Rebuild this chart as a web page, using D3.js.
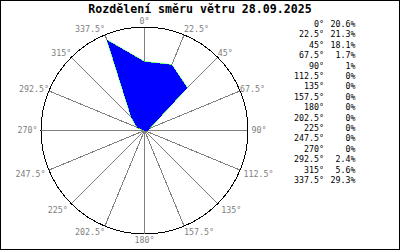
<!DOCTYPE html>
<html lang="cs">
<head>
  <meta charset="UTF-8">
  <title>Rozdělení směru větru</title>
  <script src="https://d3js.org/d3.v7.min.js"></script>
  <style>
    body { margin: 0; background: #fff; }
    svg { display: block; }
    text { font-family: "DejaVu Sans Mono", monospace; }
  </style>
</head>
<body>
<div id="chart"></div>

<script>
  const title = "Rozdělení směru větru 28.09.2025";
  const directions = [0, 22.5, 45, 67.5, 90, 112.5, 135, 157.5, 180, 202.5, 225, 247.5, 270, 292.5, 315, 337.5];
  const shares = [20.6, 21.3, 18.1, 1.7, 1, 0, 0, 0, 0, 0, 0, 0, 0, 2.4, 5.6, 29.3];

  const width = 400;
  const height = 250;
  const cx = 144.5;
  const cy = 130.5;
  const radius = 103.5;

  const svg = d3.select("#chart").append("svg")
    .attr("width", width)
    .attr("height", height);

  svg.append("rect")
    .attr("x", 0.5).attr("y", 0.5)
    .attr("width", width - 1).attr("height", height - 1)
    .attr("fill", "#fff")
    .attr("stroke", "#000")
    .attr("shape-rendering", "crispEdges");

  svg.append("text")
    .attr("x", width / 2)
    .attr("y", 8.5)
    .attr("dy", "0.35em")
    .attr("text-anchor", "middle")
    .attr("font-size", 11.6)
    .attr("font-weight", "bold")
    .text(title);

  const angle = d3.scaleLinear().domain([0, 360]).range([0, 2 * Math.PI]);
  const r = d3.scaleLinear().domain([0, 31]).range([0, radius]);

  const g = svg.append("g").attr("transform", `translate(${cx},${cy})`);

  // paprsky
  g.append("g")
    .attr("stroke", "#808080")
    .attr("shape-rendering", "crispEdges")
    .selectAll("line")
    .data(directions)
    .join("line")
    .attr("x1", 0).attr("y1", 0)
    .attr("x2", d => radius * Math.sin(angle(d)))
    .attr("y2", d => -radius * Math.cos(angle(d)));

  g.append("circle")
    .attr("r", radius)
    .attr("fill", "none")
    .attr("stroke", "#000")
    .attr("shape-rendering", "crispEdges");

  // popisky směrů
  g.append("g")
    .attr("font-size", 8.3)
    .attr("fill", "#808080")
    .selectAll("text")
    .data(directions)
    .join("text")
    .attr("text-anchor", d => {
      const s = Math.sin(angle(d));
      return s > 0.01 ? "start" : s < -0.01 ? "end" : "middle";
    })
    .attr("x", d => {
      const s = Math.sin(angle(d)), c = Math.cos(angle(d));
      const dx = Math.abs(s) > 0.5 && c < 0.1 ? 3.5 : 0;
      return radius * s + Math.sign(s) * dx;
    })
    .attr("y", d => {
      const c = Math.cos(angle(d));
      const off = c > 0 ? -6 * c : Math.min(6, -10 * c);
      return -radius * c + off;
    })
    .attr("dy", "0.35em")
    .text(d => `${d}°`);

  // růžice
  const rose = d3.lineRadial()
    .angle((d, i) => angle(directions[i]))
    .radius(d => r(d))
    .curve(d3.curveLinearClosed);

  g.append("path")
    .attr("d", rose(shares))
    .attr("fill", "none")
    .attr("stroke", "#00ff00")
    .attr("stroke-width", 0.8);

  g.append("path")
    .attr("d", rose(shares))
    .attr("fill", "#0000ff")
    .attr("shape-rendering", "crispEdges");

  // tabulka
  const rows = svg.append("g")
    .attr("font-size", 8.3)
    .attr("fill", "#000")
    .selectAll("g")
    .data(directions)
    .join("g")
    .attr("transform", (d, i) => `translate(0,${24 + i * 10.4})`);

  rows.append("text")
    .attr("x", 324)
    .attr("dy", "0.35em")
    .attr("text-anchor", "end")
    .text(d => `${d}°`);

  rows.append("text")
    .attr("x", 355.5)
    .attr("dy", "0.35em")
    .attr("text-anchor", "end")
    .text((d, i) => `${shares[i]}%`);
</script>
</body>
</html>
